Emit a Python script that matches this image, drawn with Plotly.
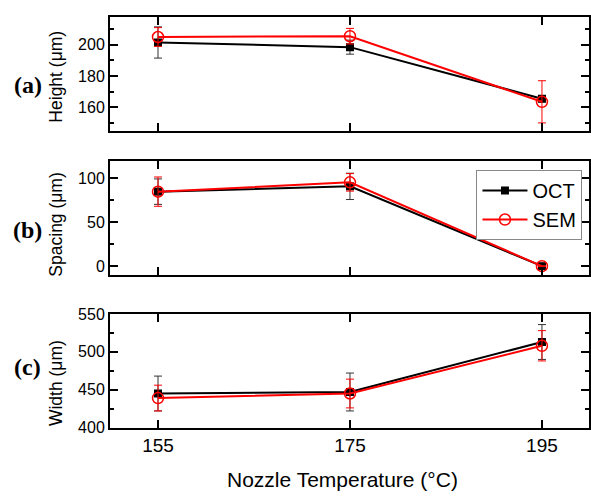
import plotly.graph_objects as go

temps = [155, 175, 195]
x_ticks = [155, 175, 195]

height_oct = [201.5, 198.5, 165.5]
height_oct_err = [10, 4.5, 2]
height_sem = [205, 205.5, 163.5]
height_sem_err = [6, 5, 13.5]

spacing_oct = [85, 91, 0]
spacing_oct_err = [14.5, 15, 0.5]
spacing_sem = [85, 95.6, 0]
spacing_sem_err = [16.7, 10, 0.5]

width_oct = [445, 447, 513]
width_oct_err = [23, 25, 23]
width_sem = [439, 445, 508]
width_sem_err = [17, 19, 20]

W, H = 591, 502
ML = 110
PW = W - ML

def px2y(p):
    return 1 - p / H

def px2x(p):
    return (p - ML) / PW

fig = go.Figure()

panels = [
    ("", height_oct, height_oct_err, height_sem, height_sem_err),
    ("2", spacing_oct, spacing_oct_err, spacing_sem, spacing_sem_err),
    ("3", width_oct, width_oct_err, width_sem, width_sem_err),
]

for i, (s, o, oe, m, me) in enumerate(panels):
    fig.add_trace(go.Scatter(
        x=temps, y=o, name="OCT", mode="lines+markers",
        line=dict(color="black", width=2),
        marker=dict(symbol="square", size=8, color="black"),
        error_y=dict(type="data", array=oe, visible=True, color="#333333", thickness=1, width=4),
        xaxis="x" + s, yaxis="y" + s, showlegend=(i == 1),
    ))
    fig.add_trace(go.Scatter(
        x=temps, y=m, name="SEM", mode="lines+markers",
        line=dict(color="red", width=2),
        marker=dict(symbol="circle-open", size=11, color="red", line=dict(width=1.5, color="red")),
        error_y=dict(type="data", array=me, visible=True, color="red", thickness=1, width=4),
        xaxis="x" + s, yaxis="y" + s, showlegend=(i == 1),
    ))

domains = [(9, 127), (158.3, 276.3), (316.7, 434.3)]
yranges = [[145, 218], [-10, 120], [400, 550]]
ydticks = [(20, 160, 10), (50, 0, 25), (50, 400, 25)]

axfont = dict(family="Liberation Sans, Arial, sans-serif", size=16, color="black")

layout = dict(
    width=W, height=H,
    margin=dict(l=ML, r=0, t=0, b=0),
    paper_bgcolor="white", plot_bgcolor="white",
    font=dict(family="Liberation Sans, Arial, sans-serif", color="black"),
    legend=dict(
        x=px2x(478), y=px2y(167.7), xanchor="left", yanchor="top",
        bgcolor="white", bordercolor="#888888", borderwidth=1,
        font=dict(size=20, family="Liberation Sans, Arial, sans-serif"),
        itemwidth=45, tracegroupgap=0,
    ),
)

for i, s in enumerate(["", "2", "3"]):
    top, bot = domains[i]
    dt, t0, mdt = ydticks[i]
    layout["xaxis" + s] = dict(
        domain=[0, 1], range=[150, 199.9], anchor="y" + s,
        tickmode="array", tickvals=x_ticks, ticktext=[str(v) for v in x_ticks],
        showticklabels=(i == 2),
        ticks="inside", ticklen=8, tickwidth=1.5, tickcolor="black",
        showline=True, linewidth=2, linecolor="black", mirror="ticks",
        showgrid=False, zeroline=False,
        tickfont=dict(family="Liberation Sans, Arial, sans-serif", size=19, color="black"),
    )
    layout["yaxis" + s] = dict(
        domain=[px2y(bot), px2y(top)], range=yranges[i], anchor="x" + s,
        tick0=t0, dtick=dt,
        ticks="inside", ticklen=8, tickwidth=1.5, tickcolor="black",
        minor=dict(ticks="inside", ticklen=4, tickwidth=1.5, tickcolor="black", dtick=mdt, tick0=t0, showgrid=False),
        showline=True, linewidth=2, linecolor="black", mirror="ticks",
        showgrid=False, zeroline=False,
        tickfont=axfont,
    )

fig.update_layout(**layout)

ytitles = [("Height (μm)", 70.8), ("Spacing (μm)", 224), ("Width (μm)", 388)]
for t, yc in ytitles:
    fig.add_annotation(text=t, xref="paper", yref="paper", x=px2x(56), y=px2y(yc),
                       xanchor="center", yanchor="middle", textangle=-90, showarrow=False,
                       font=dict(family="Liberation Sans, Arial, sans-serif", size=17.5, color="black"))

labels = [("(a)", 80), ("(b)", 230), ("(c)", 371.7)]
for t, yc in labels:
    fig.add_annotation(text="<b>" + t + "</b>", xref="paper", yref="paper", x=px2x(27.5), y=px2y(yc),
                       xanchor="center", yanchor="middle", showarrow=False,
                       font=dict(family="Liberation Serif, Times New Roman, serif", size=24, color="black"))

fig.add_annotation(text="Nozzle Temperature (°C)", xref="paper", yref="paper", x=px2x(343), y=px2y(487.7),
                   xanchor="center", yanchor="middle", showarrow=False,
                   font=dict(family="Liberation Sans, Arial, sans-serif", size=21, color="black"))

fig.write_html("out.html", config={"displayModeBar": False},
               post_script="document.body.style.margin='0';document.body.style.overflow='hidden';")
